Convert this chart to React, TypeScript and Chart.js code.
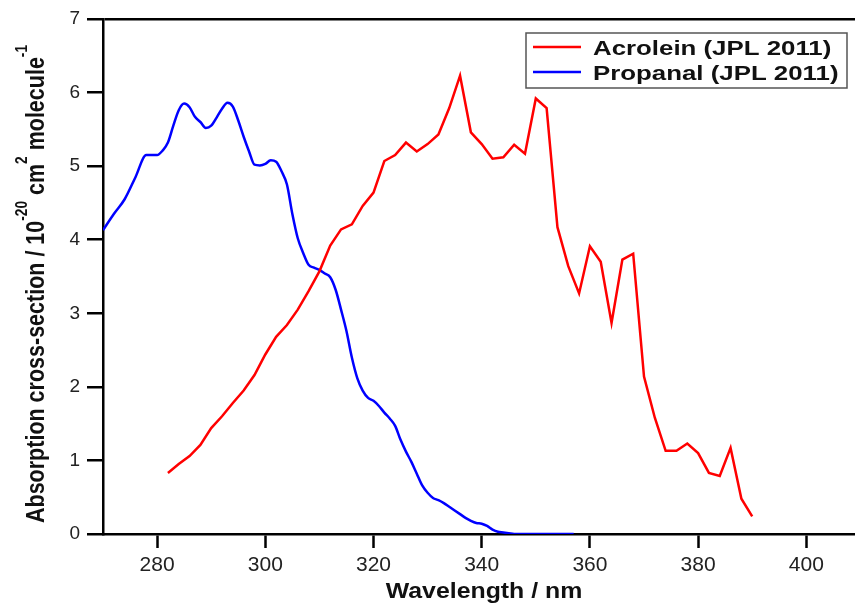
import React, { useEffect, useRef } from "react";
import { Chart, registerables } from "chart.js";

Chart.register(...registerables);

// ---- Data ----
const acroleinWavelength = [
  282, 284, 286, 288, 290, 292, 294, 296, 298, 300, 302, 304, 306, 308, 310,
  312, 314, 316, 318, 320, 322, 324, 326, 328, 330, 332, 334, 336, 338, 340,
  342, 344, 346, 348, 350, 352, 354, 356, 358, 360, 362, 364, 366, 368, 370,
  372, 374, 376, 378, 380, 382, 384, 386, 388, 390,
];
const acroleinCrossSection = [
  0.83, 0.95, 1.06, 1.21, 1.44, 1.6, 1.78, 1.95, 2.16, 2.44, 2.68, 2.84, 3.05, 3.3, 3.57,
  3.92, 4.14, 4.21, 4.46, 4.64, 5.07, 5.15, 5.32, 5.2, 5.3, 5.43, 5.79, 6.23, 5.46, 5.3,
  5.1, 5.12, 5.29, 5.17, 5.92, 5.79, 4.17, 3.64, 3.27, 3.91, 3.7, 2.87, 3.73, 3.81, 2.14,
  1.58, 1.13, 1.13, 1.23, 1.1, 0.83, 0.79, 1.17, 0.48, 0.24,
];

const propanalWavelength = [
  270, 272, 274, 276, 278, 280, 281, 282, 283, 284, 285, 286, 287, 288, 289,
  290, 291, 292, 293, 294, 295, 296, 297, 298, 299, 300, 301, 302, 303, 304,
  305, 306, 307, 308, 309, 310, 311, 312, 313, 314, 315, 316, 317, 318, 319,
  320, 321, 322, 323, 324, 325, 326, 327, 328, 329, 330, 331, 332, 333, 334,
  335, 336, 337, 338, 339, 340, 341, 342, 343, 344, 345, 346, 348, 350, 352,
  354, 357,
];
const propanalCrossSection = [
  4.13, 4.35, 4.55, 4.85, 5.15, 5.15, 5.21, 5.32, 5.55, 5.76, 5.85, 5.8, 5.67, 5.6, 5.52,
  5.55, 5.66, 5.78, 5.86, 5.81, 5.62, 5.4, 5.2, 5.02, 5.01, 5.03, 5.08, 5.06, 4.93, 4.75,
  4.35, 4.02, 3.82, 3.66, 3.62, 3.59, 3.54, 3.49, 3.32, 3.05, 2.76, 2.4, 2.12, 1.95, 1.85,
  1.81, 1.74, 1.65, 1.57, 1.47, 1.28, 1.12, 0.98, 0.82, 0.66, 0.56, 0.49, 0.46, 0.42, 0.37,
  0.32, 0.27, 0.22, 0.18, 0.15, 0.14, 0.11, 0.06, 0.03, 0.02, 0.01, 0.0, 0.0, 0.0, 0.0,
  0.0, 0.0,
];

const seriesLabels = ["Acrolein (JPL 2011)", "Propanal (JPL 2011)"];
const seriesColors = ["rgb(255,0,0)", "rgb(0,0,255)"];
const xTickValues = [280, 300, 320, 340, 360, 380, 400];
const yTickValues = [0, 1, 2, 3, 4, 5, 6, 7];
const xTitleText = "Wavelength / nm";
const yTitleParts = [
  { text: "Absorption cross-section / 10", sup: false },
  { text: "-20", sup: true },
  { text: " cm", sup: false },
  { text: "2", sup: true },
  { text: " molecule", sup: false },
  { text: "-1", sup: true },
];

const FONT = "'Liberation Sans', Arial, Helvetica, sans-serif";

const decorPlugin = {
  id: "decor",
  afterDraw(chart: any) {
    const ctx: CanvasRenderingContext2D = chart.ctx;
    // X title
    ctx.save();
    ctx.fillStyle = "#111";
    ctx.font = `bold 22px ${FONT}`;
    ctx.textAlign = "center";
    ctx.textBaseline = "alphabetic";
    ctx.translate(484, 598);
    ctx.scale(1.13, 1);
    ctx.fillText(xTitleText, 0, 0);
    ctx.restore();

    // Y title with superscripts
    ctx.save();
    ctx.fillStyle = "#111";
    ctx.textAlign = "left";
    ctx.textBaseline = "alphabetic";
    let total = 0;
    yTitleParts.forEach((p) => {
      ctx.font = p.sup ? `bold 14px ${FONT}` : `bold 22px ${FONT}`;
      total += ctx.measureText(p.text).width;
    });
    const along = 478 / total;
    ctx.translate(44, 523);
    ctx.rotate(-Math.PI / 2);
    ctx.scale(along, 1.15);
    let cx = 0;
    yTitleParts.forEach((p) => {
      ctx.font = p.sup ? `bold 14px ${FONT}` : `bold 22px ${FONT}`;
      ctx.fillText(p.text, cx, p.sup ? -14.5 : 0);
      cx += ctx.measureText(p.text).width;
    });
    ctx.restore();

    // Legend box
    ctx.save();
    ctx.fillStyle = "#fff";
    ctx.fillRect(526, 33, 321, 55);
    ctx.lineWidth = 1.5;
    ctx.strokeStyle = "#555";
    ctx.strokeRect(526, 33, 321, 55);
    const rowsY = [47, 72];
    chart.data.datasets.forEach((ds: any, i: number) => {
      const y = rowsY[i];
      ctx.strokeStyle = ds.borderColor;
      ctx.lineWidth = 2.5;
      ctx.beginPath();
      ctx.moveTo(533, y);
      ctx.lineTo(581, y);
      ctx.stroke();
      ctx.save();
      ctx.fillStyle = "#111";
      ctx.font = `bold 21px ${FONT}`;
      ctx.textAlign = "left";
      ctx.textBaseline = "alphabetic";
      ctx.translate(593, y + 8);
      ctx.scale(1.23, 1);
      ctx.fillText(ds.label, 0, 0);
      ctx.restore();
    });
    ctx.restore();
  },
};

export default function App() {
  const canvasRef = useRef<HTMLCanvasElement | null>(null);

  useEffect(() => {
    document.body.style.margin = "0";
    const canvas = canvasRef.current;
    if (!canvas) return;

    const chart = new Chart(canvas, {
      type: "line",
      data: {
        datasets: [
          {
            label: seriesLabels[0],
            data: acroleinWavelength.map((x, i) => ({ x, y: acroleinCrossSection[i] })),
            borderColor: seriesColors[0],
            backgroundColor: seriesColors[0],
            borderWidth: 2.5,
            pointRadius: 0,
            tension: 0,
            fill: false,
          },
          {
            label: seriesLabels[1],
            data: propanalWavelength.map((x, i) => ({ x, y: propanalCrossSection[i] })),
            borderColor: seriesColors[1],
            backgroundColor: seriesColors[1],
            borderWidth: 2.5,
            pointRadius: 0,
            cubicInterpolationMode: "monotone",
            fill: false,
          },
        ],
      },
      options: {
        responsive: false,
        animation: false,
        events: [],
        layout: { padding: { top: 19, left: 0, right: 0, bottom: 0 } },
        plugins: {
          legend: { display: false },
          tooltip: { enabled: false },
          title: { display: false },
        },
        scales: {
          x: {
            type: "linear",
            min: 270,
            max: 409,
            afterBuildTicks: (scale: any) => {
              scale.ticks = xTickValues.map((v) => ({ value: v }));
            },
            afterFit: (scale: any) => {
              scale.height = 71;
            },
            border: { display: true, color: "#000", width: 2.5 },
            grid: {
              drawOnChartArea: false,
              drawTicks: true,
              tickLength: 14,
              tickWidth: 2.5,
              tickColor: "#000",
            },
            ticks: {
              color: "#222",
              padding: 5,
              maxRotation: 0,
              autoSkip: false,
              font: { family: FONT, size: 21 },
            },
          },
          y: {
            type: "linear",
            min: 0,
            max: 7,
            afterBuildTicks: (scale: any) => {
              scale.ticks = yTickValues.map((v) => ({ value: v }));
            },
            afterFit: (scale: any) => {
              scale.width = 103;
            },
            border: { display: true, color: "#000", width: 2.5 },
            grid: {
              drawOnChartArea: true,
              color: (c: any) => (c.tick && c.tick.value === 7 ? "#000" : "rgba(0,0,0,0)"),
              lineWidth: 2.5,
              drawTicks: true,
              tickLength: 16,
              tickWidth: 2.5,
              tickColor: "#000",
            },
            ticks: {
              color: "#222",
              padding: 7,
              autoSkip: false,
              font: { family: FONT, size: 19 },
            },
          },
        },
      },
      plugins: [decorPlugin],
    });

    return () => {
      chart.destroy();
    };
  }, []);

  return (
    <div style={{ width: 855, height: 605 }}>
      <canvas ref={canvasRef} width={855} height={605} />
    </div>
  );
}
